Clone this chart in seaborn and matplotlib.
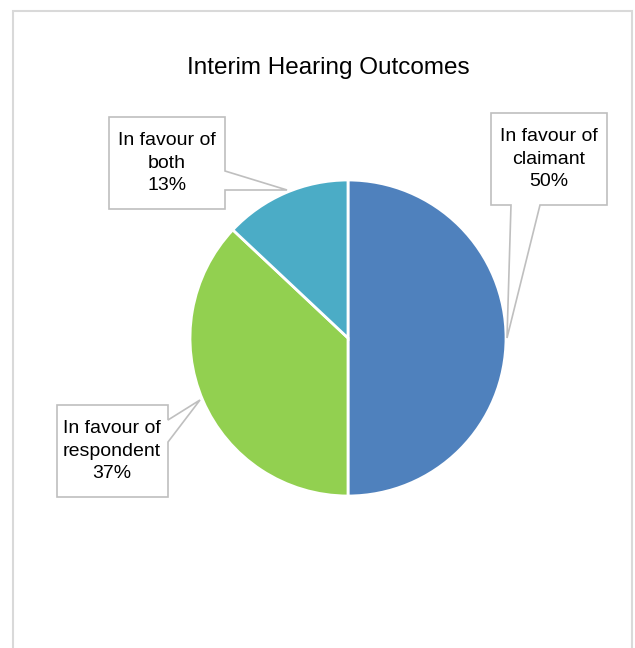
import matplotlib
matplotlib.use("Agg")
import matplotlib.pyplot as plt
import seaborn as sns
from matplotlib.patches import Polygon, Rectangle

categories = ["In favour of\nclaimant", "In favour of\nrespondent", "In favour of\nboth"]
values = [50, 37, 13]
colors = ["#4F81BD", "#92D050", "#4BACC6"]
title = "Interim Hearing Outcomes"

sns.set_theme(style="white")
plt.rcParams['font.family'] = ['Liberation Sans', 'DejaVu Sans']

W, H = 635, 648
fig = plt.figure(figsize=(W / 100, H / 100), dpi=100)
ax = fig.add_axes([0, 0, 1, 1])

def Y(y):
    return H - y

wedges, _ = ax.pie(values, colors=colors, startangle=90, counterclock=False,
                   center=(348, Y(338)), radius=158,
                   wedgeprops=dict(edgecolor="white", linewidth=2))
ax.set_xlim(0, W)
ax.set_ylim(0, H)
ax.set_aspect("equal")
ax.axis("off")

# outer chart border
ax.add_patch(Rectangle((13, Y(700)), 619, 700 - 11, fill=False,
                       edgecolor="#D9D9D9", linewidth=1.5, zorder=0))

ax.text(328, Y(68), title, ha="center", va="center", fontsize=17.5, color="#000000")

def callout(poly, tx, ty, text):
    pts = [(x, Y(y)) for x, y in poly]
    ax.add_patch(Polygon(pts, closed=True, facecolor="white",
                         edgecolor="#BFBFBF", linewidth=1.2, zorder=5))
    ax.text(tx, Y(ty), text, ha="center", va="center", fontsize=14,
            linespacing=1.4, color="#000000", zorder=6)

labels = [f"{c}\n{v}%" for c, v in zip(categories, values)]

# claimant
callout([(491, 113), (607, 113), (607, 205), (540, 205), (507, 338),
         (511, 205), (491, 205)], 549, 159, labels[0])
# respondent
callout([(57, 405), (168, 405), (168, 420), (200, 400), (168, 442),
         (168, 497), (57, 497)], 112, 451, labels[1])
# both
callout([(109, 117), (225, 117), (225, 171), (287, 190), (225, 190),
         (225, 209), (109, 209)], 167, 163, labels[2])

fig.savefig("out.png", dpi=100, facecolor="white")
